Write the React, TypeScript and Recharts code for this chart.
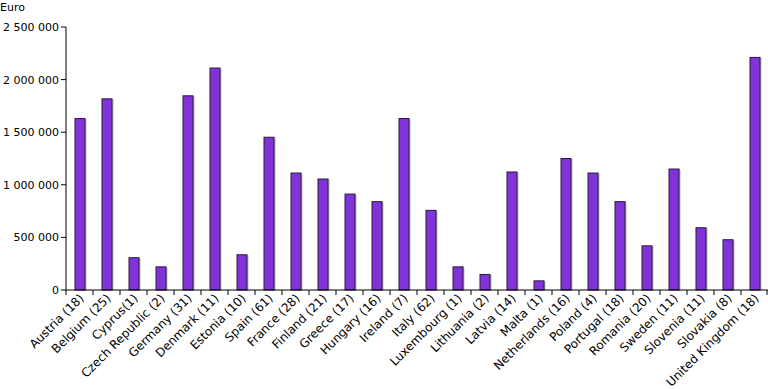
import React from 'react';
import { BarChart, Bar, XAxis, YAxis } from 'recharts';

const countries = [
  'Austria (18)', 'Belgium (25)', 'Cyprus(1)', 'Czech Republic (2)', 'Germany (31)', 'Denmark (11)',
  'Estonia (10)', 'Spain (61)', 'France (28)', 'Finland (21)', 'Greece (17)', 'Hungary (16)',
  'Ireland (7)', 'Italy (62)', 'Luxembourg (1)', 'Lithuania (2)', 'Latvia (14)', 'Malta (1)',
  'Netherlands (16)', 'Poland (4)', 'Portugal (18)', 'Romania (20)', 'Sweden (11)', 'Slovenia (11)',
  'Slovakia (8)', 'United Kingdom (18)',
];
const euros = [
  1630000, 1817000, 307000, 220000, 1846000, 2110000,
  335000, 1452000, 1112000, 1055000, 912000, 840000,
  1630000, 757000, 220000, 148000, 1122000, 87000,
  1250000, 1112000, 840000, 420000, 1150000, 592000,
  478000, 2211000,
];
const yTicks = [0, 500000, 1000000, 1500000, 2000000, 2500000];
const unitLabel = 'Euro';

const data = countries.map((c, i) => ({ name: c, value: euros[i] }));

const FONT = '"DejaVu Sans", Verdana, sans-serif';

const fmt = (v: number) => String(v).replace(/\B(?=(\d{3})+(?!\d))/g, ' ');

const XTick = (props: any) => {
  const { x, y, payload, index, visibleTicksCount } = props;
  const half = payload.offset || 13.5;
  const top = y - 8;
  const ax = x + 5;
  const ay = y + 1;
  return (
    <g>
      <line x1={x - half} y1={top} x2={x - half} y2={top + 5} stroke="#000" />
      {index === visibleTicksCount - 1 && (
        <line x1={x + half - 1} y1={top} x2={x + half - 1} y2={top + 5} stroke="#000" />
      )}
      <text
        x={ax}
        y={ay}
        transform={`rotate(-45, ${ax}, ${ay})`}
        textAnchor="end"
        fontSize={12}
        fontFamily={FONT}
        fill="#000"
      >
        {payload.value}
      </text>
    </g>
  );
};

const BarShape = (props: any) => {
  const { x, y, width, height } = props;
  if (!height || height <= 0) return null;
  return (
    <g>
      <rect x={x + 1.5} y={y + 0.5} width={width} height={height} fill="#b8b8b8" />
      <rect x={x} y={y} width={width} height={height} fill="#8033D8" stroke="#2a1a40" strokeWidth={1} />
    </g>
  );
};

export default function App() {
  return (
    <div style={{ position: 'absolute', left: 0, top: 0, width: 768, height: 389, background: '#fff' }}>
      <div
        style={{
          position: 'absolute',
          left: 0,
          top: 0,
          fontFamily: FONT,
          fontSize: 11,
          lineHeight: '16px',
          color: '#000',
        }}
      >
        {unitLabel}
      </div>
      <BarChart
        width={768}
        height={389}
        data={data}
        margin={{ top: 27, right: 0, bottom: 0, left: 0 }}
        barCategoryGap={0}
      >
        <XAxis
          dataKey="name"
          interval={0}
          height={99}
          axisLine={{ stroke: '#000' }}
          tickLine={false}
          tick={<XTick />}
        />
        <YAxis
          width={66}
          domain={[0, 2500000]}
          ticks={yTicks}
          tickFormatter={fmt}
          axisLine={{ stroke: '#000' }}
          tickLine={{ stroke: '#000' }}
          tickSize={5}
          tick={{ fontSize: 11, fontFamily: FONT, fill: '#000' }}
          interval={0}
        />
        <Bar dataKey="value" barSize={10} shape={<BarShape />} isAnimationActive={false} />
      </BarChart>
    </div>
  );
}
